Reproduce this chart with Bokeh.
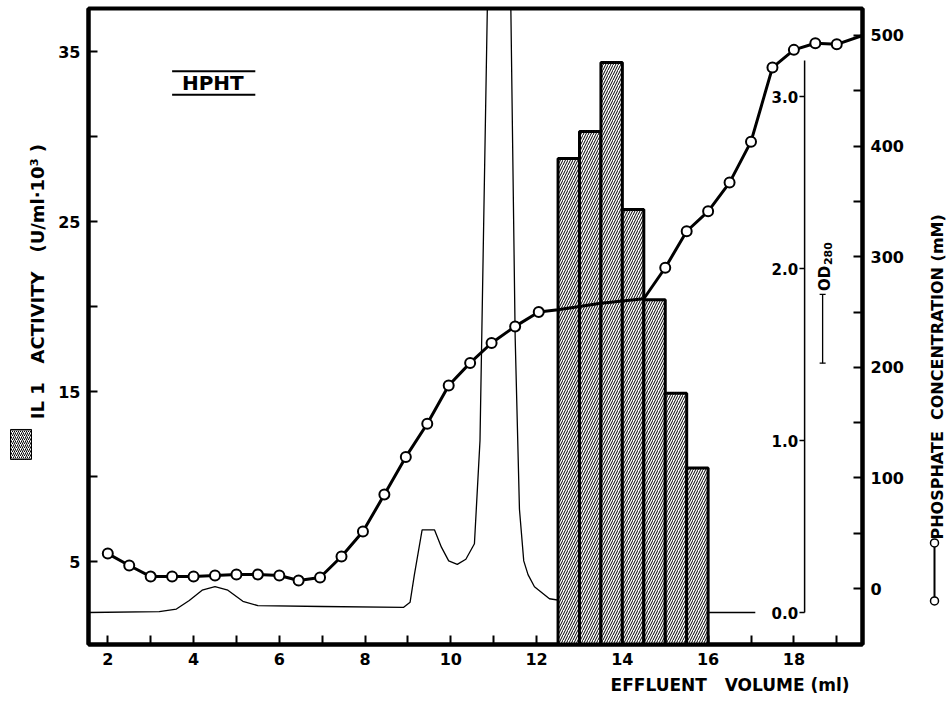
from math import pi
from bokeh.plotting import figure
from bokeh.models import Range1d, LinearAxis, FixedTicker, Title
from bokeh.layouts import row
from bokeh.embed import file_html
from bokeh.resources import INLINE
from bokeh.core.properties import value

# ---------------- data ----------------
# IL 1 activity per 0.5 ml fraction (U/ml x 10^3)
fraction_start = [12.5, 13.0, 13.5, 14.0, 14.5, 15.0, 15.5]
fraction_end = [13.0, 13.5, 14.0, 14.5, 15.0, 15.5, 16.0]
il1_activity = [28.7, 30.3, 34.35, 25.7, 20.4, 14.9, 10.5]

# phosphate gradient (mM)
phos_ml = [2.0, 2.5, 3.0, 3.5, 4.0, 4.5, 5.0, 5.5, 6.0, 6.45, 6.95, 7.45, 7.95,
           8.45, 8.95, 9.45, 9.95, 10.45, 10.95, 11.5, 12.05, 12.5, 13.0, 13.5,
           14.0, 14.5, 15.0, 15.5, 16.0, 16.5, 17.0, 17.5, 18.0, 18.5, 19.0, 19.6]
phos_mM = [31.6, 20.8, 10.8, 10.8, 10.8, 11.8, 12.7, 12.7, 11.8, 7.2, 10.0, 29.0, 51.5,
           85.0, 119.0, 149.0, 183.5, 204.0, 222.0, 237.0, 250.0, 252.0, 255.0, 258.0,
           260.0, 262.0, 290.0, 323.0, 341.0, 367.0, 404.0, 471.0, 487.0, 493.0, 492.0, 500.0]

# absorbance trace OD280
od_ml = [1.55, 3.2, 3.6, 3.9, 4.2, 4.5, 4.8, 5.15, 5.5, 7.0, 8.9, 9.05, 9.15, 9.33,
         9.62, 9.78, 9.95, 10.15, 10.35, 10.55, 10.68, 10.85, 11.1, 11.4, 11.5, 11.6,
         11.7, 11.8, 11.95, 12.3, 12.8, 14.0, 16.0, 17.1]
od_280 = [0.0, 0.005, 0.02, 0.07, 0.13, 0.15, 0.13, 0.065, 0.04, 0.035, 0.03, 0.06, 0.22, 0.48,
          0.48, 0.38, 0.30, 0.28, 0.31, 0.40, 1.0, 3.5, 5.0, 3.5, 1.6, 0.6,
          0.30, 0.22, 0.15, 0.08, 0.06, 0.03, 0.0, 0.0]

x_ticks = [2, 4, 6, 8, 10, 12, 14, 16, 18]
x_minor = [3, 5, 7, 9, 11, 13, 15, 17, 19]
il1_ticks = [5, 15, 25, 35]
il1_minor = [10, 20, 30]
phos_ticks = [0, 100, 200, 300, 400, 500]
phos_minor = [50, 150, 250, 350, 450]
od_ticks = [0.0, 1.0, 2.0, 3.0]
od_tick_labels = ["0.0", "1.0", "2.0", "3.0"]

# ---------------- layout constants ----------------
FONT = "DejaVu Sans"
OD_AXIS_X = 18.25
OD_AXIS_TOP = 3.21
OD_TICK_LEN = 0.12
NB = "\u00a0"

# ---------------- main figure ----------------
p = figure(width=867, height=701, x_range=Range1d(1.55, 19.6), y_range=Range1d(0.12, 37.53),
           output_backend="svg", toolbar_location=None,
           min_border_left=40, min_border_right=53, min_border_top=8, min_border_bottom=57,
           x_axis_type=None, y_axis_type=None)
p.extra_y_ranges = {"phos": Range1d(-50.6, 524.4), "od": Range1d(-0.186, 3.512)}
p.outline_line_color = "black"
p.outline_line_width = 4
p.background_fill_color = "white"
p.border_fill_color = "white"


def style_axis(ax):
    ax.axis_line_width = 4
    ax.axis_line_color = "black"
    ax.major_tick_in = 9
    ax.major_tick_out = 0
    ax.minor_tick_in = 9
    ax.minor_tick_out = 0
    ax.major_tick_line_width = 2
    ax.minor_tick_line_width = 2
    ax.major_label_text_font = FONT
    ax.major_label_text_font_style = "bold"
    ax.major_label_text_font_size = "16px"
    ax.major_label_text_color = "black"
    ax.major_label_standoff = 8


xaxis = LinearAxis(ticker=FixedTicker(ticks=x_ticks, minor_ticks=x_minor))
style_axis(xaxis)
p.add_layout(xaxis, "below")

yaxis = LinearAxis(ticker=FixedTicker(ticks=il1_ticks, minor_ticks=il1_minor))
style_axis(yaxis)
p.add_layout(yaxis, "left")

raxis = LinearAxis(y_range_name="phos", ticker=FixedTicker(ticks=phos_ticks, minor_ticks=phos_minor))
style_axis(raxis)
p.add_layout(raxis, "right")

xlabel = "EFFLUENT" + NB * 3 + "VOLUME" + NB + "(ml)"
p.add_layout(Title(text=xlabel, align="right", offset=13, text_color="black",
                   text_font=FONT, text_font_style="bold", text_font_size="17px",
                   standoff=10), "below")

# OD trace
p.line(od_ml, od_280, y_range_name="od", line_color="black", line_width=1.3)

# IL 1 bars
p.quad(left=fraction_start, right=fraction_end, bottom=0, top=il1_activity,
       fill_color="white", line_color="black", line_width=3,
       hatch_pattern="right_diagonal_line", hatch_color="black", hatch_scale=5, hatch_weight=1)

# phosphate gradient
p.line(phos_ml, phos_mM, y_range_name="phos", line_color="black", line_width=3)
vis = [(x, y) for x, y in zip(phos_ml, phos_mM) if (x < 12.25 or x > 14.75) and x < 19.3]
p.scatter([v[0] for v in vis], [v[1] for v in vis], y_range_name="phos", size=10,
          fill_color="white", line_color="black", line_width=2)

# inner OD280 axis
p.segment(x0=OD_AXIS_X, y0=0, x1=OD_AXIS_X, y1=OD_AXIS_TOP, y_range_name="od",
          line_color="black", line_width=1.5)
p.segment(x0=[OD_AXIS_X - OD_TICK_LEN] * len(od_ticks), y0=od_ticks,
          x1=[OD_AXIS_X] * len(od_ticks), y1=od_ticks, y_range_name="od",
          line_color="black", line_width=1.5)
p.text(x=[OD_AXIS_X - OD_TICK_LEN - 0.03] * len(od_ticks), y=od_ticks, text=od_tick_labels,
       y_range_name="od", text_align="right", text_baseline="middle",
       text_font=value(FONT), text_font_style="bold", text_font_size="15px", text_color="black")

# OD280 label + scale bar
p.text(x=[18.73], y=[1.87], text=["OD"], angle=pi / 2, y_range_name="od",
       text_align="left", text_baseline="middle",
       text_font=value(FONT), text_font_style="bold", text_font_size="15px")
p.text(x=[18.80], y=[2.02], text=["280"], angle=pi / 2, y_range_name="od",
       text_align="left", text_baseline="middle",
       text_font=value(FONT), text_font_style="bold", text_font_size="11px")
p.segment(x0=18.67, y0=1.45, x1=18.67, y1=1.85, y_range_name="od", line_color="black", line_width=1.3)
p.segment(x0=[18.6, 18.6], y0=[1.45, 1.85], x1=[18.74, 18.74], y1=[1.45, 1.85], y_range_name="od",
          line_color="black", line_width=1.3)

# panel title
p.text(x=[4.45], y=[33.15], text=["HPHT"], text_align="center", text_baseline="middle",
       text_font=value(FONT), text_font_style="bold", text_font_size="20px")
p.segment(x0=[3.5, 3.5], y0=[33.84, 32.45], x1=[5.44, 5.44], y1=[33.84, 32.45],
          line_color="black", line_width=2)

# ---------------- left strip: IL 1 label + key ----------------
left = figure(width=48, height=701, x_range=Range1d(0, 48), y_range=Range1d(0, 701),
              output_backend="svg", toolbar_location=None, min_border=0,
              x_axis_type=None, y_axis_type=None, outline_line_color=None)
left.text(x=[37], y=[400],
          text=["IL" + NB + "1" + NB * 3 + "ACTIVITY" + NB * 3 + "(U/ml\u00b710\u00b3" + NB + ")"],
          angle=pi / 2, text_align="center", text_baseline="middle",
          text_font=value(FONT), text_font_style="bold", text_font_size="18px")
left.quad(left=10, right=31, bottom=204, top=237, fill_color="white", line_color="black",
          line_width=1, hatch_pattern="right_diagonal_line", hatch_color="black",
          hatch_scale=4, hatch_weight=1)

# ---------------- right strip: phosphate label + key ----------------
right = figure(width=33, height=701, x_range=Range1d(0, 33), y_range=Range1d(0, 701),
               output_backend="svg", toolbar_location=None, min_border=0,
               x_axis_type=None, y_axis_type=None, outline_line_color=None)
right.text(x=[22], y=[295], text=["PHOSPHATE" + NB * 2 + "CONCENTRATION" + NB + "(mM)"],
           angle=pi / 2, text_align="center", text_baseline="middle",
           text_font=value(FONT), text_font_style="bold", text_font_size="16px")
right.segment(x0=19, y0=48, x1=19, y1=112, line_color="black", line_width=2)
right.scatter([19, 19], [48, 112], size=8, fill_color="white", line_color="black", line_width=1.5)

layout = row(left, p, right)
open("out.html", "w").write(file_html(layout, INLINE))
